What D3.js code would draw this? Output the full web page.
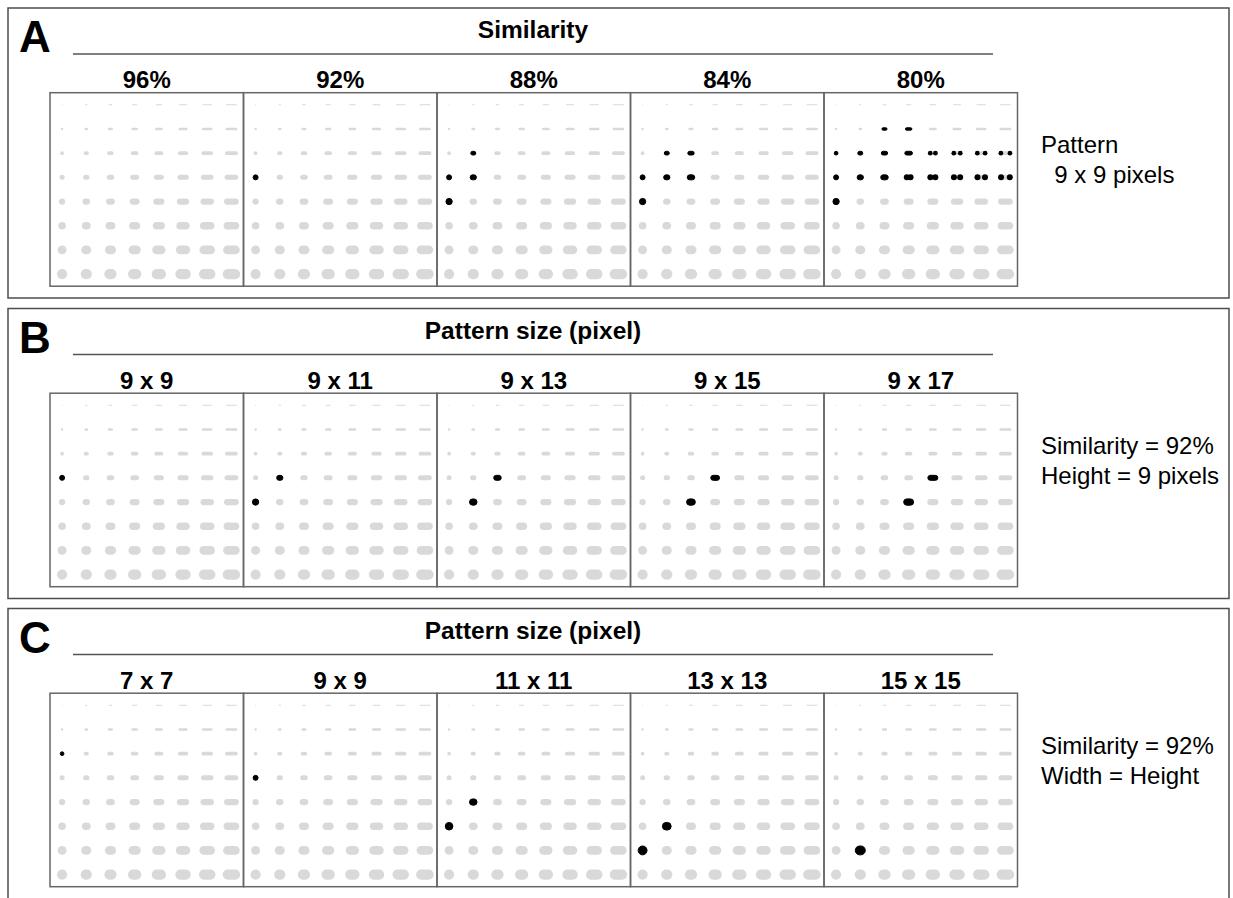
<!DOCTYPE html>
<html>
<head>
<meta charset="utf-8">
<script src="https://cdn.jsdelivr.net/npm/d3@7"></script>
<style>
  body { margin: 0; background: #fff; }
  text { font-family: "Liberation Sans", Arial, sans-serif; fill: #000; }
  .frame { fill: none; stroke: #4d4d4d; stroke-width: 1.5px; }
  .box { fill: none; stroke: #666; stroke-width: 1.5px; }
  .rule { stroke: #555; stroke-width: 1.5px; }
</style>
</head>
<body>
<script>
const width = 1233;
const height = 898;

// panel texts
const panelLetters = ["A", "B", "C"];
const panelTitles = ["Similarity", "Pattern size (pixel)", "Pattern size (pixel)"];
const similarityLabels = ["96%", "92%", "88%", "84%", "80%"];
const widthLabels = ["9 x 9", "9 x 11", "9 x 13", "9 x 15", "9 x 17"];
const squareLabels = ["7 x 7", "9 x 9", "11 x 11", "13 x 13", "15 x 15"];
const panelNotes = [
  ["Pattern", "  9 x 9 pixels"],
  ["Similarity = 92%", "Height = 9 pixels"],
  ["Similarity = 92%", "Width = Height"]
];

// detected cells per sub-panel: [row, col, kind]  (kind "s" = split into two dots)
const similarityHits = [
  [],
  [[3, 0]],
  [[2, 1], [3, 0], [3, 1], [4, 0]],
  [[2, 1], [2, 2], [3, 0], [3, 1], [3, 2], [4, 0]],
  [[1, 2], [1, 3],
   [2, 0], [2, 1], [2, 2], [2, 3], [2, 4, "s"], [2, 5, "s"], [2, 6, "s"], [2, 7, "s"],
   [3, 0], [3, 1], [3, 2], [3, 3, "s"], [3, 4, "s"], [3, 5, "s"], [3, 6, "s"], [3, 7, "s"],
   [4, 0]]
];
const widthHits = [
  [[3, 0]],
  [[3, 1], [4, 0]],
  [[3, 2], [4, 1]],
  [[3, 3], [4, 2]],
  [[3, 4], [4, 3]]
];
const squareHits = [
  [[2, 0]],
  [[3, 0]],
  [[4, 1], [5, 0]],
  [[5, 1], [6, 0]],
  [[6, 1]]
];

const panelLabels = [similarityLabels, widthLabels, squareLabels];
const panelHits = [similarityHits, widthHits, squareHits];

const gridIdx = d3.range(8);
const cellSize = 193.5;
const panelDy = [0, 300.5, 600.5];

// sub-panel and cell scales
const subX = d3.scaleBand().domain(d3.range(5)).range([50, 50 + cellSize * 5]);
const colX = d3.scaleBand().domain(gridIdx).range([0, cellSize]);
const rowY = d3.scaleBand().domain(gridIdx).range([0, cellSize]);
const markH = d3.scaleLinear().domain([0, 7]).range([1.1, 10.2]);
const markExtra = d3.scaleLinear().domain([0, 7]).range([1.4, 1.05]);

function markWidth(r, c) { return markH(r) + c * markExtra(r); }

const svg = d3.select("body")
  .append("svg")
  .attr("width", width)
  .attr("height", height);

panelLetters.forEach((letter, p) => {
  const dy = panelDy[p];
  const g = svg.append("g").attr("transform", `translate(0,${dy})`);

  g.append("rect")
    .attr("class", "frame")
    .attr("x", 8)
    .attr("y", 8)
    .attr("width", 1221)
    .attr("height", p === 2 ? 400 : 290);

  g.append("text")
    .attr("x", 19)
    .attr("y", 52)
    .style("font-size", "44px")
    .style("font-weight", "bold")
    .text(letter);

  g.append("text")
    .attr("x", 533)
    .attr("y", 38)
    .attr("text-anchor", "middle")
    .style("font-size", "24.5px")
    .style("font-weight", "bold")
    .text(panelTitles[p]);

  g.append("line")
    .attr("class", "rule")
    .attr("x1", 73)
    .attr("x2", 993)
    .attr("y1", 54)
    .attr("y2", 54);

  g.selectAll("text.sub")
    .data(panelLabels[p])
    .enter().append("text")
    .attr("class", "sub")
    .attr("x", (d, i) => subX(i) + subX.bandwidth() / 2)
    .attr("y", 88)
    .attr("text-anchor", "middle")
    .style("font-size", "24px")
    .style("font-weight", "bold")
    .text(d => d);

  g.selectAll("text.note")
    .data(panelNotes[p])
    .enter().append("text")
    .attr("class", "note")
    .attr("x", 1041)
    .attr("y", (d, i) => 153 + i * 30)
    .style("font-size", "24px")
    .style("white-space", "pre")
    .attr("xml:space", "preserve")
    .text(d => d);

  const boxTop = 92.7;

  panelLabels[p].forEach((lab, s) => {
    const sg = g.append("g")
      .attr("transform", `translate(${subX(s)},${boxTop})`);

    const cells = [];
    gridIdx.forEach(r => gridIdx.forEach(c => cells.push({ r, c })));

    const hits = panelHits[p][s];
    const hitKind = new Map(hits.map(h => [h[0] + "-" + h[1], h[2] || "f"]));
    const isHit = d => hitKind.get(d.r + "-" + d.c) === "f";

    sg.selectAll("rect.mark")
      .data(cells)
      .enter().append("rect")
      .attr("class", "mark")
      .attr("x", d => colX(d.c) + colX.bandwidth() / 2 - markWidth(d.r, d.c) / 2)
      .attr("y", d => rowY(d.r) + rowY.bandwidth() / 2 - markH(d.r) / 2)
      .attr("width", d => markWidth(d.r, d.c))
      .attr("height", d => markH(d.r))
      .attr("rx", d => markH(d.r) / 2)
      .attr("fill", d => isHit(d) ? "#000" : "#d9d9d9")
      .attr("stroke", d => isHit(d) ? "#000" : "none")
      .attr("stroke-width", 1);

    // split detections: two dots at the ends of the mark
    const dots = [];
    hits.filter(h => h[2] === "s").forEach(h => {
      const off = (markWidth(h[0], h[1]) - markH(h[0])) / 2;
      dots.push({ r: h[0], c: h[1], dx: -off });
      dots.push({ r: h[0], c: h[1], dx: off });
    });
    sg.selectAll("circle.split")
      .data(dots)
      .enter().append("circle")
      .attr("class", "split")
      .attr("cx", d => colX(d.c) + colX.bandwidth() / 2 + d.dx)
      .attr("cy", d => rowY(d.r) + rowY.bandwidth() / 2)
      .attr("r", d => markH(d.r) / 2 + 0.5)
      .attr("fill", "#000");

    sg.append("rect")
      .attr("class", "box")
      .attr("width", cellSize)
      .attr("height", cellSize);
  });
});
</script>
</body>
</html>
